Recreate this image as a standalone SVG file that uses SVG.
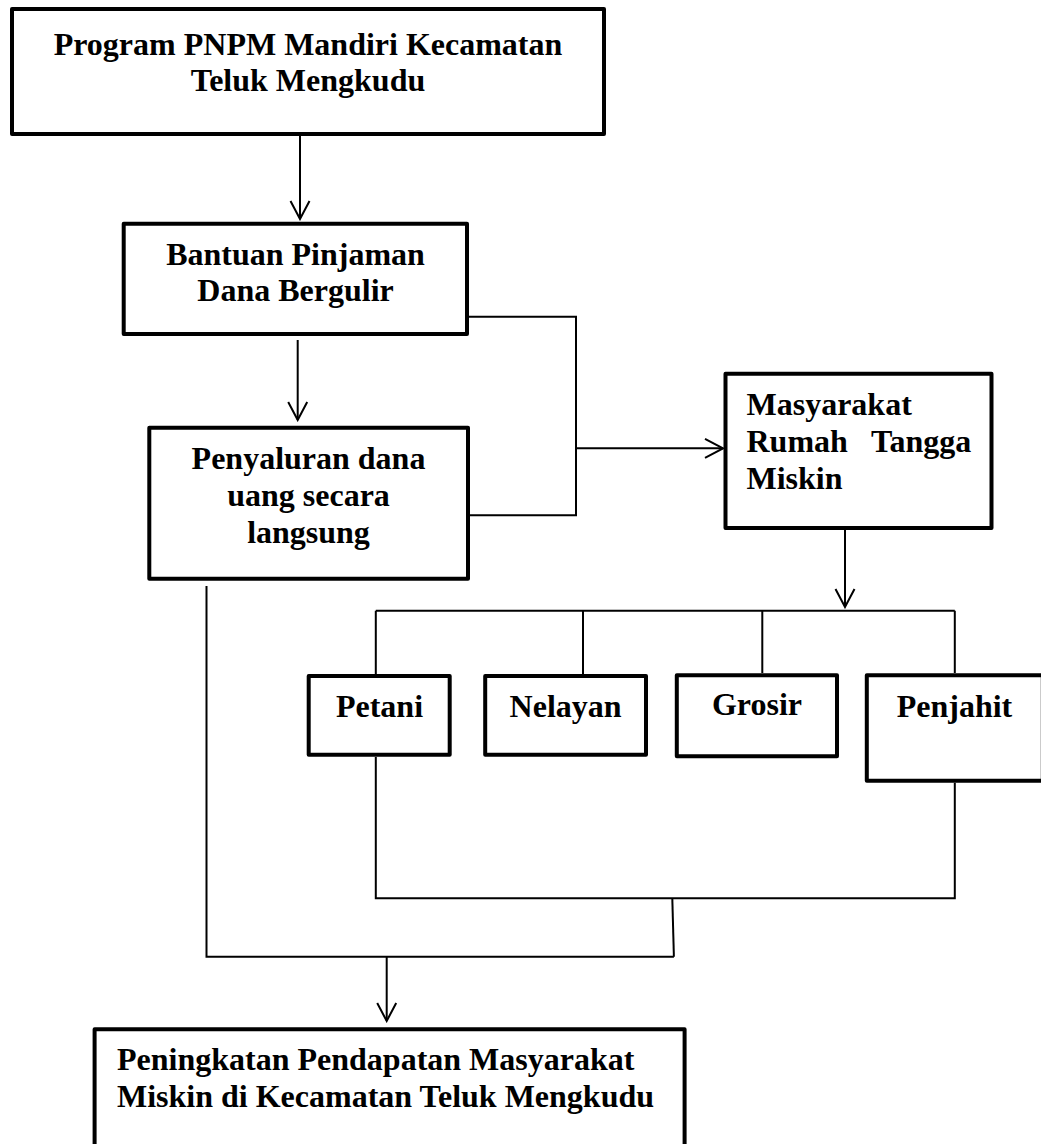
<svg xmlns="http://www.w3.org/2000/svg" width="1041" height="1144" viewBox="0 0 1041 1144">
<style>
  .box { fill: #fff; stroke: #000; stroke-width: 4; stroke-linejoin: round; }
  .t { font-family: "Liberation Serif", "Times New Roman", serif; font-weight: bold; font-size: 32px; fill: #000; }
  .c { text-anchor: middle; }
  .ln { fill: none; stroke: #000; stroke-width: 2; }
</style>
<defs>
  <marker id="arr" viewBox="-21 -12 23 24" refX="0" refY="0" markerWidth="23" markerHeight="24" orient="auto" markerUnits="userSpaceOnUse">
    <path d="M-18,-9.5 L0,0 L-18,9.5" fill="none" stroke="#000" stroke-width="2"/>
  </marker>
</defs>
<rect width="1041" height="1144" fill="#fff"/>
<g id="connectors">
  <path class="ln" d="M300,136 V219" marker-end="url(#arr)"/>
  <path class="ln" d="M297.7,340 V420" marker-end="url(#arr)"/>
  <path class="ln" d="M469,316.7 H576 V515.3 H470"/>
  <path class="ln" d="M576,448.3 H723" marker-end="url(#arr)"/>
  <path class="ln" d="M845,530 V607" marker-end="url(#arr)"/>
  <path class="ln" d="M375.8,610.7 H954.8"/>
  <path class="ln" d="M375.8,610.7 V674 M583,610.7 V674 M762.3,610.7 V673 M954.8,610.7 V673"/>
  <path class="ln" d="M375.8,757 V898.3 H954.8 V782.7"/>
  <path class="ln" d="M672.3,898.3 L673.9,956.7"/>
  <path class="ln" d="M206.5,586 V956.7 H673.9"/>
  <path class="ln" d="M386.7,956.7 V1021" marker-end="url(#arr)"/>
</g>
<g id="node-program">
  <rect class="box" x="12" y="9" width="592" height="125"/>
  <text class="t c" x="308" y="55">Program PNPM Mandiri Kecamatan</text>
  <text class="t c" x="308" y="91">Teluk Mengkudu</text>
</g>
<g id="node-bantuan">
  <rect class="box" x="123.7" y="223.7" width="343.3" height="110.3"/>
  <text class="t c" x="295.5" y="265">Bantuan Pinjaman</text>
  <text class="t c" x="295.5" y="301">Dana Bergulir</text>
</g>
<g id="node-penyaluran">
  <rect class="box" x="149.3" y="427.7" width="318.7" height="151"/>
  <text class="t c" x="308.5" y="469">Penyaluran dana</text>
  <text class="t c" x="308.5" y="506">uang secara</text>
  <text class="t c" x="308.5" y="543">langsung</text>
</g>
<g id="node-masyarakat">
  <rect class="box" x="725.5" y="373.7" width="266" height="154.3"/>
  <text class="t" x="746.5" y="415">Masyarakat</text>
  <text class="t" x="746.5" y="452">Rumah <tspan x="871">Tangga</tspan></text>
  <text class="t" x="746.5" y="488.5">Miskin</text>
</g>
<g id="node-petani">
  <rect class="box" x="308.7" y="676" width="141" height="78.7"/>
  <text class="t c" x="379.5" y="716.7">Petani</text>
</g>
<g id="node-nelayan">
  <rect class="box" x="485.2" y="676" width="160.8" height="78.7"/>
  <text class="t c" x="565.6" y="716.7">Nelayan</text>
</g>
<g id="node-grosir">
  <rect class="box" x="676.8" y="675.3" width="160.2" height="81"/>
  <text class="t c" x="757" y="715">Grosir</text>
</g>
<g id="node-penjahit">
  <rect class="box" x="866.8" y="675.3" width="176" height="105.4"/>
  <text class="t c" x="954.5" y="716.7">Penjahit</text>
</g>
<g id="node-peningkatan">
  <rect class="box" x="94.6" y="1029.3" width="590" height="130"/>
  <text class="t" x="117" y="1070">Peningkatan Pendapatan Masyarakat</text>
  <text class="t" x="117" y="1106.7">Miskin di Kecamatan Teluk Mengkudu</text>
</g>
</svg>
